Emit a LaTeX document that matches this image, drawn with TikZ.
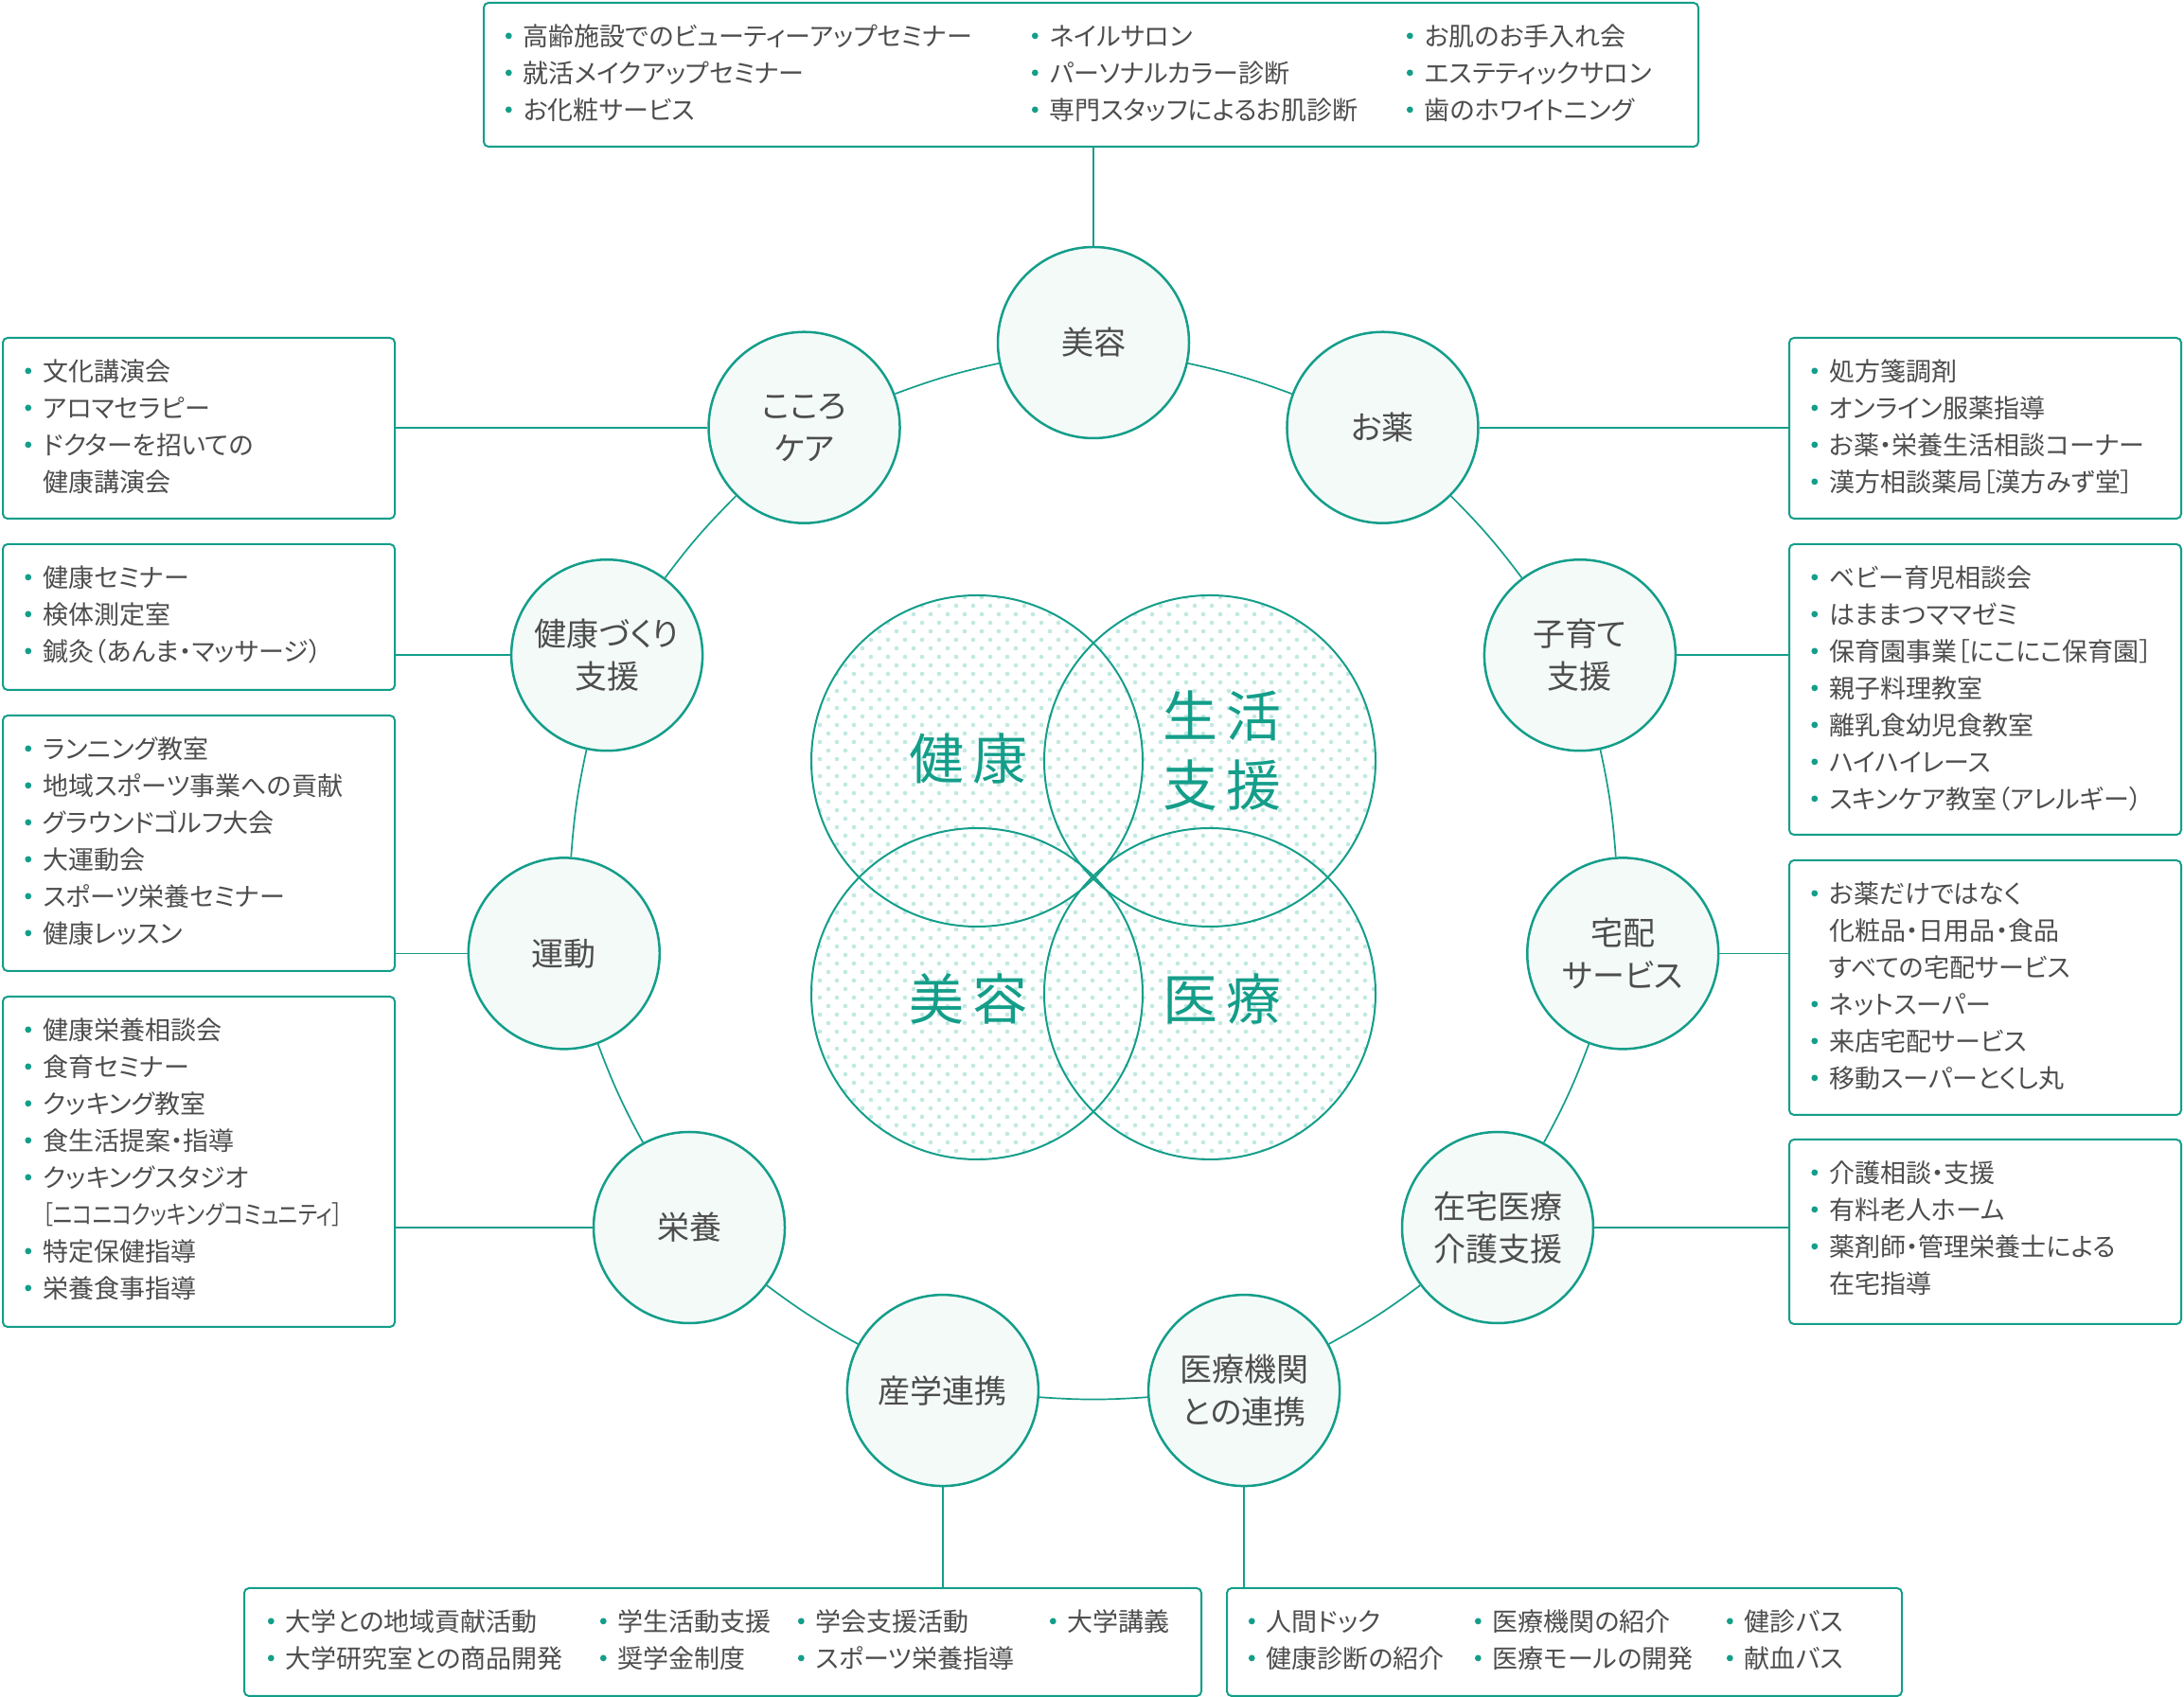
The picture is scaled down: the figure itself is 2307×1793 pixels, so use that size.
\documentclass[tikz,border=0pt]{standalone}
\usepackage{fontspec}
\usepackage{xcolor}
\usepackage{graphicx}
\usepackage{tikz}
\usetikzlibrary{matrix,calc,positioning}
\setmainfont{Noto Sans CJK JP}[RawFeature=+palt]
\definecolor{leaf}{RGB}{20,158,138}
\definecolor{mist}{RGB}{244,250,248}
\definecolor{speck}{RGB}{192,233,226}
\definecolor{ink}{RGB}{77,77,77}
\newcommand{\listfont}{\fontsize{13.5}{19.5}\selectfont}
\newcommand{\ringfont}{\fontsize{17}{22.5}\selectfont}
\newcommand{\vennfont}{\fontsize{29}{36.5}\selectfont}
\newcommand{\itemgap}{\hspace*{10.25pt}}

\tikzset{
	ring/.style={circle, draw=leaf, line width=1.25pt, fill=mist, minimum size=101pt,
		inner sep=0pt, align=center, font=\ringfont, text=ink},
	listbox/.style={draw=leaf, line width=1pt, rounded corners=2.5pt, anchor=north west,
		inner sep=0pt, fill=white},
	listcol/.style={matrix of nodes, anchor=north west, inner sep=0pt, row sep=0pt,
		nodes={anchor=base west, inner sep=0pt, text height=15pt, text depth=4.5pt,
			font=\listfont, text=ink}},
	link/.style={draw=leaf, line width=0.85pt},
	venn/.style={draw=leaf, line width=1pt},
	vennlabel/.style={font=\vennfont, text=leaf, align=center}
}

\begin{document}
\begin{tikzpicture}[x=0.5pt,y=0.5pt]
\useasboundingbox (0,0) rectangle (2307,1793);

% centre of the ring and of the four circles
\coordinate (hub) at (1155,866);
\coordinate (c1) at ($(hub)+(-123,123)$);
\coordinate (c2) at ($(hub)+(123,123)$);
\coordinate (c3) at ($(hub)+(-123,-123)$);
\coordinate (c4) at ($(hub)+(123,-123)$);

\begin{scope}
	\clip (c1) circle (175) (c2) circle (175) (c3) circle (175) (c4) circle (175);
	\fill[speck] \foreach \row in {0,...,66}{\foreach \col in {0,...,33}{
		({857+18*\col+9*mod(\row,2)},{568+9*\row}) circle (2.3)}};
\end{scope}
\draw[venn] (c1) circle (175);
\draw[venn] (c2) circle (175);
\draw[venn] (c3) circle (175);
\draw[venn] (c4) circle (175);

\node[vennlabel] (vKenkou) at ($(c1)+(-9,2)$) {健\hspace{4.5pt}康};
\node[vennlabel] (vSeikatsu) at ($(c2)+(13,11)$) {生\hspace{4.5pt}活\\支\hspace{4.5pt}援};
\node[vennlabel] (vBiyou) at ($(c3)+(-9,-5)$) {美\hspace{4.5pt}容};
\node[vennlabel] (vIryou) at ($(c4)+(13,-5)$) {医\hspace{4.5pt}療};

% the ring
\node[ring] (biyou)    at ($(hub)+(90:565)$)      {美容};
\node[ring] (okusuri)  at ($(hub)+(57.27:565)$)   {お薬};
\node[ring] (kosodate) at ($(hub)+(24.55:565)$)   {子育て\\支援};
\node[ring] (takuhai)  at ($(hub)+(-8.18:565)$)   {宅配\\サービス};
\node[ring] (zaitaku)  at ($(hub)+(-40.91:565)$)  {在宅医療\\介護支援};
\node[ring] (iryou)    at ($(hub)+(-73.64:565)$)  {医療機関\\との連携};
\node[ring] (sangaku)  at ($(hub)+(-106.36:565)$) {産学連携};
\node[ring] (eiyou)    at ($(hub)+(-139.09:565)$) {栄養};
\node[ring] (undou)    at ($(hub)+(-171.82:565)$) {運動};
\node[ring] (kenkou)   at ($(hub)+(155.45:565)$)  {健康づくり\\支援};
\node[ring] (kokoro)   at ($(hub)+(122.73:565)$)  {こころ\\ケア};

\draw[link] (biyou)    to[bend left=4] (okusuri);
\draw[link] (okusuri)  to[bend left=4] (kosodate);
\draw[link] (kosodate) to[bend left=4] (takuhai);
\draw[link] (takuhai)  to[bend left=4] (zaitaku);
\draw[link] (zaitaku)  to[bend left=4] (iryou);
\draw[link] (iryou)    to[bend left=4] (sangaku);
\draw[link] (sangaku)  to[bend left=4] (eiyou);
\draw[link] (eiyou)    to[bend left=4] (undou);
\draw[link] (undou)    to[bend left=4] (kenkou);
\draw[link] (kenkou)   to[bend left=4] (kokoro);
\draw[link] (kokoro)   to[bend left=4] (biyou);

% boxes
\node[listbox, minimum width=641.5pt, minimum height=76pt]  (T)  at (510,1791) {};
\node[listbox, minimum width=207pt, minimum height=95.5pt]  (L1) at (2,1437) {};
\node[listbox, minimum width=207pt, minimum height=77pt]    (L2) at (2,1219) {};
\node[listbox, minimum width=207pt, minimum height=135pt]   (L3) at (2,1038) {};
\node[listbox, minimum width=207pt, minimum height=174.5pt] (L4) at (2,741) {};
\node[listbox, minimum width=207pt, minimum height=95.5pt]  (R1) at (1889,1437) {};
\node[listbox, minimum width=207pt, minimum height=153.5pt] (R2) at (1889,1219) {};
\node[listbox, minimum width=207pt, minimum height=134.5pt] (R3) at (1889,885) {};
\node[listbox, minimum width=207pt, minimum height=97.5pt]  (R4) at (1889,590) {};
\node[listbox, minimum width=505.5pt, minimum height=57pt]  (B1) at (257,116) {};
\node[listbox, minimum width=356.5pt, minimum height=57pt]  (B2) at (1295,116) {};

\matrix[listcol] (T1) at (532,1775) {
	\itemgap 高齢施設でのビューティーアップセミナー\\
	\itemgap 就活メイクアップセミナー\\
	\itemgap お化粧サービス\\
};
\matrix[listcol] (T2) at (1088,1775) {
	\itemgap ネイルサロン\\
	\itemgap パーソナルカラー診断\\
	\itemgap 専門スタッフによるお肌診断\\
};
\matrix[listcol] (T3) at (1484,1775) {
	\itemgap お肌のお手入れ会\\
	\itemgap エステティックサロン\\
	\itemgap 歯のホワイトニング\\
};

\matrix[listcol] (L1t) at (24.5,1421) {
	\itemgap 文化講演会\\
	\itemgap アロマセラピー\\
	\itemgap ドクターを招いての\\
	\itemgap 健康講演会\\
};
\matrix[listcol] (L2t) at (24.5,1203) {
	\itemgap 健康セミナー\\
	\itemgap 検体測定室\\
	\itemgap 鍼灸（あんま・マッサージ）\\
};
\matrix[listcol] (L3t) at (24.5,1022) {
	\itemgap ランニング教室\\
	\itemgap 地域スポーツ事業への貢献\\
	\itemgap グラウンドゴルフ大会\\
	\itemgap 大運動会\\
	\itemgap スポーツ栄養セミナー\\
	\itemgap 健康レッスン\\
};
\matrix[listcol] (L4t) at (24.5,725) {
	\itemgap 健康栄養相談会\\
	\itemgap 食育セミナー\\
	\itemgap クッキング教室\\
	\itemgap 食生活提案・指導\\
	\itemgap クッキングスタジオ\\
	\itemgap \scalebox{0.82}[1]{［ニコニコクッキングコミュニティ］}\\
	\itemgap 特定保健指導\\
	\itemgap 栄養食事指導\\
};

\matrix[listcol] (R1t) at (1911.5,1421) {
	\itemgap 処方箋調剤\\
	\itemgap オンライン服薬指導\\
	\itemgap お薬・栄養生活相談コーナー\\
	\itemgap 漢方相談薬局［漢方みず堂］\\
};
\matrix[listcol] (R2t) at (1911.5,1203) {
	\itemgap ベビー育児相談会\\
	\itemgap はままつママゼミ\\
	\itemgap 保育園事業［にこにこ保育園］\\
	\itemgap 親子料理教室\\
	\itemgap 離乳食幼児食教室\\
	\itemgap ハイハイレース\\
	\itemgap スキンケア教室（アレルギー）\\
};
\matrix[listcol] (R3t) at (1911.5,869) {
	\itemgap お薬だけではなく\\
	\itemgap 化粧品・日用品・食品\\
	\itemgap すべての宅配サービス\\
	\itemgap ネットスーパー\\
	\itemgap 来店宅配サービス\\
	\itemgap 移動スーパーとくし丸\\
};
\matrix[listcol] (R4t) at (1911.5,574) {
	\itemgap 介護相談・支援\\
	\itemgap 有料老人ホーム\\
	\itemgap 薬剤師・管理栄養士による\\
	\itemgap 在宅指導\\
};

\matrix[listcol] (B1a) at (281,100) {
	\itemgap 大学との地域貢献活動\\
	\itemgap 大学研究室との商品開発\\
};
\matrix[listcol] (B1b) at (632,100) {
	\itemgap 学生活動支援\\
	\itemgap 奨学金制度\\
};
\matrix[listcol] (B1c) at (841,100) {
	\itemgap 学会支援活動\\
	\itemgap スポーツ栄養指導\\
};
\matrix[listcol] (B1d) at (1107,100) {
	\itemgap 大学講義\\
};
\matrix[listcol] (B2a) at (1317,100) {
	\itemgap 人間ドック\\
	\itemgap 健康診断の紹介\\
};
\matrix[listcol] (B2b) at (1556,100) {
	\itemgap 医療機関の紹介\\
	\itemgap 医療モールの開発\\
};
\matrix[listcol] (B2c) at (1822,100) {
	\itemgap 健診バス\\
	\itemgap 献血バス\\
};

% bullets
\foreach \r in {1,2,3} \fill[leaf] ([xshift=2.65pt]T1-\r-1.west) circle (3.4);
\foreach \r in {1,2,3} \fill[leaf] ([xshift=2.65pt]T2-\r-1.west) circle (3.4);
\foreach \r in {1,2,3} \fill[leaf] ([xshift=2.65pt]T3-\r-1.west) circle (3.4);
\foreach \r in {1,2,3} \fill[leaf] ([xshift=2.65pt]L1t-\r-1.west) circle (3.4);
\foreach \r in {1,2,3} \fill[leaf] ([xshift=2.65pt]L2t-\r-1.west) circle (3.4);
\foreach \r in {1,...,6} \fill[leaf] ([xshift=2.65pt]L3t-\r-1.west) circle (3.4);
\foreach \r in {1,2,3,4,5,7,8} \fill[leaf] ([xshift=2.65pt]L4t-\r-1.west) circle (3.4);
\foreach \r in {1,...,4} \fill[leaf] ([xshift=2.65pt]R1t-\r-1.west) circle (3.4);
\foreach \r in {1,...,7} \fill[leaf] ([xshift=2.65pt]R2t-\r-1.west) circle (3.4);
\foreach \r in {1,4,5,6} \fill[leaf] ([xshift=2.65pt]R3t-\r-1.west) circle (3.4);
\foreach \r in {1,2,3} \fill[leaf] ([xshift=2.65pt]R4t-\r-1.west) circle (3.4);
\foreach \r in {1,2} \fill[leaf] ([xshift=2.65pt]B1a-\r-1.west) circle (3.4);
\foreach \r in {1,2} \fill[leaf] ([xshift=2.65pt]B1b-\r-1.west) circle (3.4);
\foreach \r in {1,2} \fill[leaf] ([xshift=2.65pt]B1c-\r-1.west) circle (3.4);
\fill[leaf] ([xshift=2.65pt]B1d-1-1.west) circle (3.4);
\foreach \r in {1,2} \fill[leaf] ([xshift=2.65pt]B2a-\r-1.west) circle (3.4);
\foreach \r in {1,2} \fill[leaf] ([xshift=2.65pt]B2b-\r-1.west) circle (3.4);
\foreach \r in {1,2} \fill[leaf] ([xshift=2.65pt]B2c-\r-1.west) circle (3.4);

% box to circle
\draw[link] (biyou.north) -- (biyou.north |- T.south);
\draw[link] (kokoro.west) -- (kokoro.west -| L1.east);
\draw[link] (kenkou.west) -- (kenkou.west -| L2.east);
\draw[link] (undou.west)  -- (undou.west -| L3.east);
\draw[link] (eiyou.west)  -- (eiyou.west -| L4.east);
\draw[link] (okusuri.east)  -- (okusuri.east -| R1.west);
\draw[link] (kosodate.east) -- (kosodate.east -| R2.west);
\draw[link] (takuhai.east)  -- (takuhai.east -| R3.west);
\draw[link] (zaitaku.east)  -- (zaitaku.east -| R4.west);
\draw[link] (sangaku.south) -- (sangaku.south |- B1.north);
\draw[link] (iryou.south)   -- (iryou.south |- B2.north);
\end{tikzpicture}
\end{document}
